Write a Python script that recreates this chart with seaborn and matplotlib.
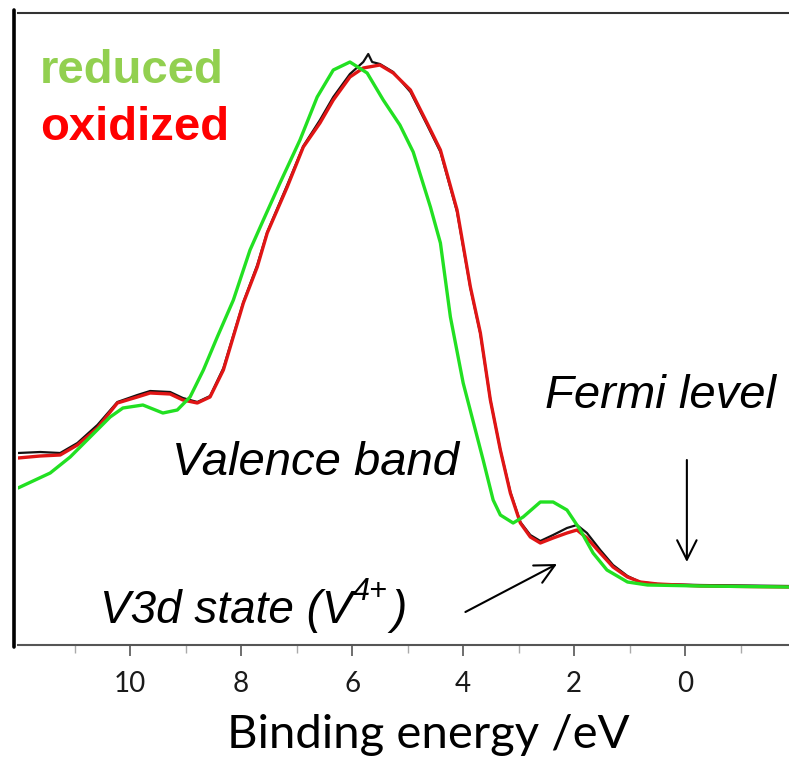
import matplotlib
matplotlib.use("Agg")
import matplotlib.pyplot as plt
from matplotlib.lines import Line2D
import seaborn as sns
import pandas as pd

# ---- data (binding energy in eV, intensity in arbitrary units) ----
ox_be = [12.02, 11.62, 11.26, 10.95, 10.59, 10.23, 9.87, 9.64, 9.28, 9.05, 8.79, 8.56, 8.32, 7.96,
         7.71, 7.53, 7.17, 6.88, 6.58, 6.34, 6.04, 5.80, 5.50, 5.26, 4.95, 4.65, 4.41, 4.11, 3.87,
         3.69, 3.51, 3.33, 3.15, 2.97, 2.79, 2.61, 2.38, 2.13, 1.95, 1.77, 1.53, 1.30, 1.04, 0.81,
         0.50, -0.27, -1.87]
ox_int = [187, 189, 190, 200, 217, 242, 248, 252, 251, 245, 242, 248, 275, 342, 378, 412, 458, 498,
          522, 545, 568, 577, 580, 572, 555, 522, 495, 435, 358, 312, 245, 195, 152, 122, 108, 102,
          107, 112, 115, 107, 92, 78, 68, 63, 61, 59, 58]

blk_be = [12.02, 11.62, 11.26, 10.95, 10.59, 10.23, 9.87, 9.64, 9.28, 9.05, 8.79, 8.56, 8.32, 7.96,
          7.71, 7.53, 7.17, 6.88, 6.58, 6.34, 6.04, 5.80, 5.71, 5.64, 5.50, 5.26, 4.95, 4.65, 4.41,
          4.11, 3.87, 3.69, 3.51, 3.33, 3.15, 2.97, 2.79, 2.61, 2.38, 2.13, 1.95, 1.77, 1.53, 1.30,
          1.04, 0.81, 0.50, -0.27, -1.87]
blk_int = [192, 193, 192, 202, 220, 243, 250, 254, 253, 247, 243, 249, 277, 343, 380, 413, 460, 499,
           525, 548, 571, 583, 591, 583, 581, 573, 553, 520, 493, 433, 357, 311, 245, 195, 153, 123,
           110, 104, 110, 117, 120, 112, 95, 80, 69, 63, 61, 60, 59]

red_be = [12.02, 11.44, 11.08, 10.72, 10.36, 10.13, 9.77, 9.41, 9.15, 8.92, 8.68, 8.43, 8.14, 7.84,
          7.60, 7.30, 6.94, 6.63, 6.34, 6.04, 5.73, 5.44, 5.14, 4.90, 4.59, 4.41, 4.23, 4.00, 3.78,
          3.64, 3.46, 3.33, 3.10, 2.92, 2.61, 2.38, 2.13, 1.89, 1.66, 1.41, 1.04, 0.68, -0.27, -1.87]
red_int = [157, 172, 188, 208, 228, 237, 240, 232, 235, 248, 275, 308, 345, 395, 425, 462, 505, 548,
           575, 583, 572, 545, 520, 493, 438, 402, 328, 262, 215, 185, 145, 130, 122, 128, 143, 143,
           135, 115, 92, 75, 63, 60, 59, 58]

major_ticks = [10, 8, 6, 4, 2, 0]
minor_ticks = [11, 9, 7, 5, 3, 1, -1]

sns.set_style("white")

fig = plt.figure(figsize=(7.89, 7.57), dpi=100)
ax = fig.add_axes([18 / 789, 1 - 645 / 757, 1 - 18 / 789, (645 - 13) / 757])

df_blk = pd.DataFrame({"be": blk_be, "i": blk_int})
df_ox = pd.DataFrame({"be": ox_be, "i": ox_int})
df_red = pd.DataFrame({"be": red_be, "i": red_int})

sns.lineplot(data=df_blk, x="be", y="i", ax=ax, color="#111111", lw=1.6, sort=False, estimator=None)
sns.lineplot(data=df_ox, x="be", y="i", ax=ax, color="#e01515", lw=2.4, sort=False, estimator=None)
sns.lineplot(data=df_red, x="be", y="i", ax=ax, color="#22e022", lw=2.4, sort=False, estimator=None)

ax.set_xlim(12.02, -1.87)
ax.set_ylim(0, 632)
ax.set_yticks([])
ax.set_ylabel("")
ax.set_xlabel("")
ax.set_xticks(major_ticks)
ax.set_xticks(minor_ticks, minor=True)
ax.set_xticklabels([str(t) for t in major_ticks], fontfamily="Lato", fontsize=20, color="#1a1a1a")
ax.tick_params(axis="x", which="major", direction="out", length=8, width=1.2, color="#555555",
               pad=11, bottom=True)
ax.tick_params(axis="x", which="minor", direction="out", length=6, width=1.0, color="#aaaaaa",
               bottom=True)

for side in ["left", "right"]:
    ax.spines[side].set_visible(False)
ax.spines["top"].set_color("#333333")
ax.spines["top"].set_linewidth(1.5)
ax.spines["bottom"].set_color("#555555")
ax.spines["bottom"].set_linewidth(1.5)

# axis title (sits right of the axes centre in the reference)
fig.text(428 / 789, 1 - 748 / 757, "Binding energy /eV", fontfamily="Lato", fontsize=34,
         color="black", ha="center", va="baseline")

# thick left bar
fig.add_artist(Line2D([14 / 789, 14 / 789], [1 - 647 / 757, 1 - 10 / 757],
                      transform=fig.transFigure, color="black", lw=2.6))

# labels
fig.text(40 / 789, 1 - 83 / 757, "reduced", color="#92d050", fontsize=34, fontweight="bold",
         fontfamily="Liberation Sans", ha="left", va="baseline")
fig.text(40 / 789, 1 - 140 / 757, "oxidized", color="#ff0000", fontsize=34, fontweight="bold",
         fontfamily="Liberation Sans", ha="left", va="baseline")
fig.text(172 / 789, 1 - 475 / 757, "Valence band", fontsize=34, fontstyle="italic", color="black",
         fontfamily="Liberation Sans", ha="left", va="baseline")
fig.text(545 / 789, 1 - 408 / 757, "Fermi level", fontsize=34, fontstyle="italic", color="black",
         fontfamily="Liberation Sans", ha="left", va="baseline")

# V3d state (V4+) with a superscript built from separate texts
renderer = fig.canvas.get_renderer()
t1 = fig.text(100 / 789, 1 - 623 / 757, "V3d state (V", fontsize=33, fontstyle="italic",
              color="black", fontfamily="Liberation Sans", ha="left", va="baseline")
bb1 = t1.get_window_extent(renderer)
t2 = fig.text(bb1.x1 / 789 + 0.001, 1 - 600 / 757, "4+", fontsize=22, fontstyle="italic",
              color="black", fontfamily="Liberation Sans", ha="left", va="baseline")
bb2 = t2.get_window_extent(renderer)
fig.text(bb2.x1 / 789 + 0.004, 1 - 623 / 757, ")", fontsize=33, fontstyle="italic",
         color="black", fontfamily="Liberation Sans", ha="left", va="baseline")

# arrows
ax.annotate("", xy=(-0.03, 83), xytext=(-0.03, 185),
            arrowprops=dict(arrowstyle="->,head_length=0.7,head_width=0.35", lw=1.5, color="black",
                            shrinkA=0, shrinkB=0, mutation_scale=20))
ax.annotate("", xy=(2.31, 81), xytext=(3.96, 33),
            arrowprops=dict(arrowstyle="->,head_length=0.7,head_width=0.35", lw=1.5, color="black",
                            shrinkA=0, shrinkB=0, mutation_scale=20))

fig.savefig("out.png", dpi=100)
